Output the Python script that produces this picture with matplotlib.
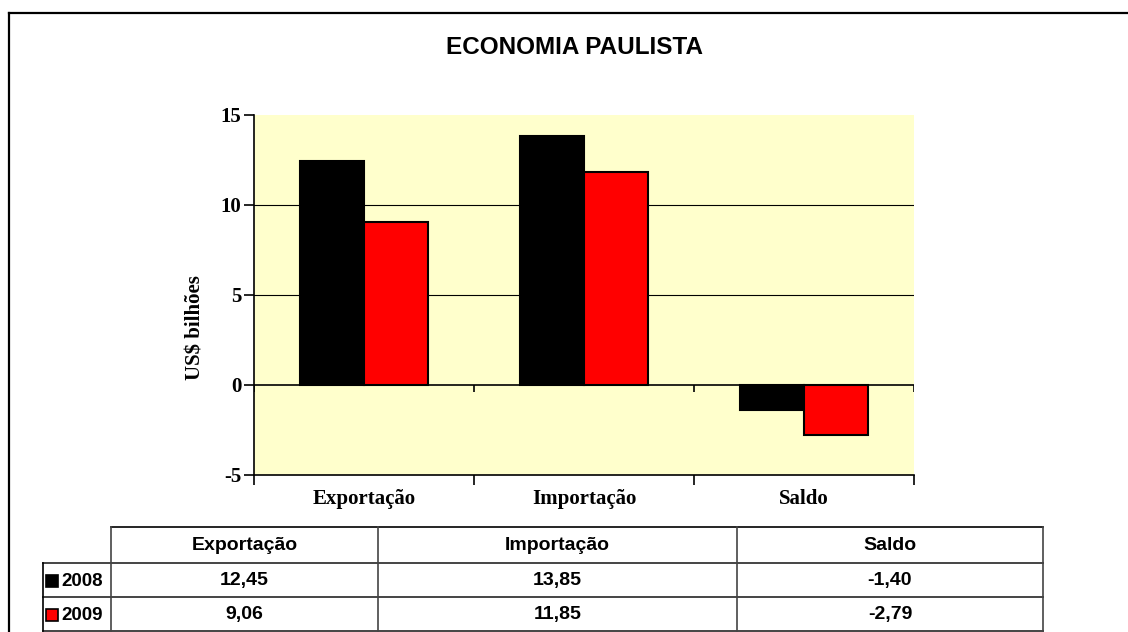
import matplotlib.pyplot as plt
import numpy as np

categories = ['Exportação', 'Importação', 'Saldo']
years = ['2008', '2009']
vals_2008 = [12.45, 13.85, -1.40]
vals_2009 = [9.06, 11.85, -2.79]
colors = ['#000000', '#ff0000']
yticks = [-5, 0, 5, 10, 15]

fig = plt.figure(figsize=(11.28, 6.32), dpi=100)

# background layer in pixel coords for border + table
bg = fig.add_axes([0, 0, 1, 1], zorder=0)
bg.set_xlim(0, 1128)
bg.set_ylim(632, 0)
bg.axis('off')
bg.plot([9, 1128], [13, 13], color='black', lw=1.6)
bg.plot([9, 9], [13, 632], color='black', lw=1.6)

# main chart
ax = fig.add_axes([254/1128, 1 - 475/632, 660/1128, 360/632], zorder=1)
ax.set_facecolor('#ffffcc')
x = np.arange(len(categories))
w = 0.289
series = [vals_2008, vals_2009]
for i, vals in enumerate(series):
    ax.bar(x + (i - 0.5) * w, vals, width=w, color=colors[i],
           edgecolor='black', linewidth=1.5, zorder=3)

ax.set_xlim(-0.5, len(categories) - 0.5)
ax.set_ylim(yticks[0], yticks[-1])
for yv in [5, 10]:
    ax.axhline(yv, color='black', lw=0.8, zorder=1)
ax.axhline(0, color='black', lw=1.2, zorder=4)
bounds = np.arange(len(categories) + 1) - 0.5
ax.vlines(bounds, -0.4, 0, color='black', lw=1.2, zorder=4)

ax.set_yticks(yticks)
ax.set_yticklabels([str(v) for v in yticks], fontfamily='Liberation Serif',
                   fontweight='bold', fontsize=15)
ax.set_xticks(bounds)
ax.set_xticklabels([])
ax.set_xticks(x, minor=True)
ax.set_xticklabels(categories, minor=True, fontfamily='Liberation Serif',
                   fontweight='bold', fontsize=15)
ax.tick_params(axis='x', which='major', length=7, width=1.2, direction='out')
ax.tick_params(axis='x', which='minor', length=0, pad=10)
ax.tick_params(axis='y', length=7, width=1.2, direction='out', pad=2)
for s in ['top', 'right']:
    ax.spines[s].set_visible(False)
ax.spines['left'].set_linewidth(1.2)
ax.spines['bottom'].set_linewidth(1.2)

fig.text(575/1128, 1 - 47/632, 'ECONOMIA PAULISTA', ha='center', va='center',
         fontfamily='Liberation Sans', fontweight='bold', fontsize=17.5)
fig.text(195/1128, 1 - 328/632, 'US$ bilhões', ha='center', va='center',
         rotation=90, fontfamily='Liberation Serif', fontweight='bold', fontsize=15)

# data table
cols = [43, 111, 378, 737, 1043]
rows = [527, 563, 597, 631]
lc = '#444444'
bg.plot([cols[1], cols[-1]], [rows[0], rows[0]], color='black', lw=1.2)
for yy in rows[1:]:
    bg.plot([cols[0], cols[-1]], [yy, yy], color=lc, lw=1.4)
bg.plot([cols[0], cols[0]], [rows[1], rows[-1]], color='black', lw=1.2)
for xx in cols[1:]:
    bg.plot([xx, xx], [rows[0], rows[-1]], color=lc, lw=1.2)
tfont = dict(fontfamily='Liberation Sans', fontweight='bold', fontsize=14)
for j, cat in enumerate(categories):
    bg.text((cols[j + 1] + cols[j + 2]) / 2, (rows[0] + rows[1]) / 2 + 1, cat,
            ha='center', va='center', **tfont)
for i, (yr, vals) in enumerate(zip(years, series)):
    yc = (rows[i + 1] + rows[i + 2]) / 2 + 1
    bg.add_patch(plt.Rectangle((46, yc - 6), 12, 12, facecolor=colors[i],
                               edgecolor='black', lw=1.2))
    bg.text(61, yc, yr, ha='left', va='center', fontfamily='Liberation Sans',
            fontweight='bold', fontsize=13.5)
    for j, v in enumerate(vals):
        bg.text((cols[j + 1] + cols[j + 2]) / 2, yc, f'{v:.2f}'.replace('.', ','),
                ha='center', va='center', **tfont)

fig.savefig('out.png', dpi=100)
